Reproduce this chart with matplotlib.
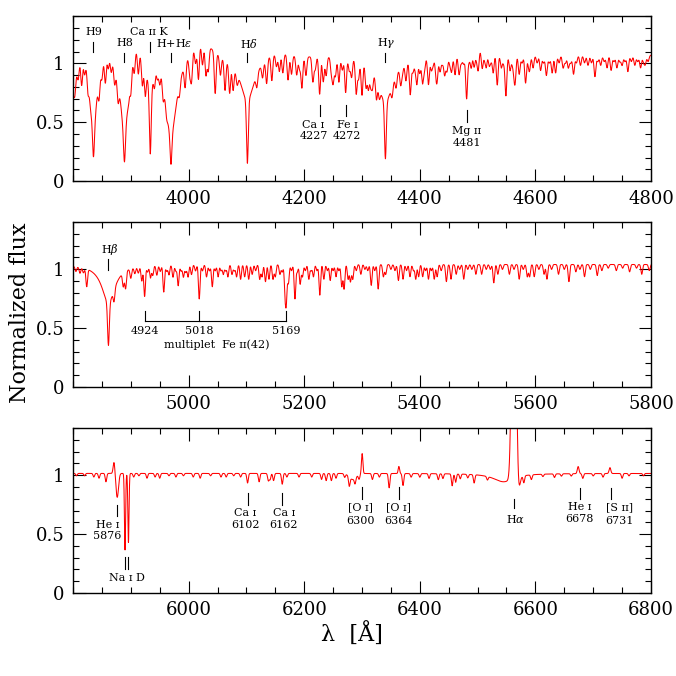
import matplotlib
matplotlib.use("Agg")
import matplotlib.pyplot as plt
import numpy as np
from matplotlib.ticker import MultipleLocator

plt.rcParams["font.family"] = ["DejaVu Serif"]
plt.rcParams["mathtext.fontset"] = "dejavuserif"

# ---------------- data ----------------
# wavelength ranges of the three panels (Angstrom)
ranges = [(3800, 4800), (4800, 5800), (5800, 6800)]
xtick_sets = [[4000, 4200, 4400, 4600, 4800],
              [5000, 5200, 5400, 5600, 5800],
              [6000, 6200, 6400, 6600, 6800]]
line_sigma = [1.6, 1.4, 1.3]

# pseudo-continuum level and broad bumps (centre, amplitude, sigma)
top_base = 1.07
top_bump_wl = [3818, 3860, 3908, 3950, 4020, 4150, 4505]
top_bump_amp = [0.16, 0.14, 0.20, 0.15, 0.15, 0.05, 0.05]
top_bump_sig = [14, 9, 10, 8, 22, 20, 15]

mid_base = 1.04
mid_bump_wl = []
mid_bump_amp = []
mid_bump_sig = []

bot_base = 1.015
bot_bump_wl = []
bot_bump_amp = []
bot_bump_sig = []

# strong / broad absorptions: centre, core depth, core sigma, wing depth, wing gamma
top_broad_wl = [3797.9, 3835.4, 3889.0, 3933.7, 3969.5, 4101.7, 4340.5]
top_broad_core = [0.25, 0.20, 0.22, 0.45, 0.23, 0.50, 0.45]
top_broad_sig = [1.5, 1.5, 1.5, 1.5, 1.5, 1.5, 1.5]
top_broad_wing = [0.30, 0.58, 0.60, 0.25, 0.62, 0.35, 0.37]
top_broad_gam = [10, 7, 8, 5, 12, 15, 16]

mid_broad_wl = [4861.3]
mid_broad_core = [0.35]
mid_broad_sig = [1.5]
mid_broad_wing = [0.31]
mid_broad_gam = [14]

bot_broad_wl = [5876.5, 5890.0, 5895.9, 6284.0, 6545.0, 6571.0]
bot_broad_core = [0.20, 0.64, 0.58, 0.05, 0.0, 0.12]
bot_broad_sig = [2.2, 1.0, 1.0, 6.0, 1.0, 2.5]
bot_broad_wing = [0.0, 0.0, 0.0, 0.0, 0.07, 0.0]
bot_broad_gam = [1, 1, 1, 1, 22, 1]

# weak metal lines: centre, depth
top_line_wl = [3803, 3809, 3815, 3820, 3826, 3830, 3845, 3850, 3856, 3861, 3866, 3872,
               3878, 3896, 3900, 3906, 3913, 3920, 3925, 3941, 3946, 3950, 3956, 3962,
               3984, 3994, 4002, 4005, 4012, 4017, 4024, 4030, 4034, 4046, 4055, 4063,
               4071, 4077, 4084, 4118, 4128, 4135, 4144, 4152, 4157, 4163, 4172, 4178,
               4187, 4192, 4196, 4203, 4215, 4219, 4226.7, 4233, 4238, 4247, 4250, 4254,
               4260, 4266, 4271.7, 4278, 4282, 4290, 4294, 4300, 4307, 4311, 4315, 4318,
               4325, 4330, 4352, 4359, 4367, 4370, 4376, 4383.5, 4388, 4392, 4395, 4400,
               4404.7, 4408, 4415, 4420, 4423, 4428, 4430, 4435, 4439, 4443, 4447, 4452,
               4455, 4461, 4468, 4472, 4476, 4481, 4485, 4489, 4494, 4498, 4501, 4508,
               4512, 4515, 4520, 4523, 4527, 4534, 4541, 4545, 4549, 4556, 4560, 4563,
               4565, 4572, 4577, 4583, 4588, 4590, 4596, 4603, 4609, 4614, 4619, 4624,
               4629, 4635, 4641, 4648, 4652, 4657, 4661, 4666, 4671, 4678, 4685, 4691,
               4697, 4703, 4708, 4713, 4719, 4724, 4731, 4736, 4741, 4746, 4750, 4755,
               4760, 4766, 4772, 4777, 4782, 4787, 4790, 4795]
top_line_depth = [0.15, 0.12, 0.22, 0.12, 0.18, 0.10, 0.20, 0.12, 0.22, 0.12, 0.12, 0.15,
                  0.20, 0.12, 0.20, 0.15, 0.18, 0.22, 0.25, 0.15, 0.12, 0.15, 0.18, 0.12,
                  0.12, 0.20, 0.15, 0.22, 0.12, 0.25, 0.15, 0.22, 0.18, 0.32, 0.15, 0.25,
                  0.25, 0.20, 0.10, 0.12, 0.12, 0.20, 0.20, 0.10, 0.14, 0.15, 0.20, 0.15,
                  0.15, 0.10, 0.25, 0.15, 0.20, 0.10, 0.30, 0.20, 0.15, 0.12, 0.20, 0.15,
                  0.20, 0.10, 0.28, 0.10, 0.15, 0.28, 0.15, 0.28, 0.20, 0.20, 0.15, 0.15,
                  0.20, 0.12, 0.12, 0.12, 0.15, 0.06, 0.15, 0.28, 0.10, 0.07, 0.20, 0.12,
                  0.20, 0.10, 0.22, 0.10, 0.06, 0.12, 0.16, 0.12, 0.06, 0.15, 0.12, 0.06,
                  0.12, 0.15, 0.15, 0.06, 0.07, 0.35, 0.06, 0.12, 0.12, 0.06, 0.15, 0.14,
                  0.06, 0.12, 0.10, 0.06, 0.15, 0.24, 0.10, 0.06, 0.32, 0.12, 0.06, 0.12,
                  0.18, 0.15, 0.06, 0.22, 0.06, 0.10, 0.10, 0.06, 0.12, 0.06, 0.16, 0.06,
                  0.14, 0.14, 0.06, 0.10, 0.06, 0.10, 0.06, 0.15, 0.06, 0.08, 0.06, 0.08,
                  0.06, 0.17, 0.05, 0.08, 0.05, 0.10, 0.12, 0.05, 0.10, 0.05, 0.08, 0.05,
                  0.13, 0.05, 0.08, 0.05, 0.10, 0.05, 0.07, 0.05]

mid_line_wl = [4805, 4812, 4818, 4823.7, 4871, 4887, 4891, 4900, 4907, 4913, 4919, 4923.9,
               4929, 4934, 4938, 4945, 4951, 4957, 4962, 4966, 4973, 4978, 4982, 4987,
               4991, 4995, 4999, 5005, 5012, 5018.4, 5024, 5031, 5036, 5041, 5046, 5051,
               5056, 5060, 5064, 5068, 5075, 5079, 5083, 5090, 5097, 5104, 5110, 5116,
               5123, 5127, 5133, 5139, 5146, 5150, 5158, 5162, 5167, 5169, 5172.7, 5178,
               5184, 5188, 5193, 5197, 5202, 5208, 5212, 5216, 5222, 5227, 5234, 5240,
               5245, 5250, 5255, 5260, 5265, 5269, 5276, 5280, 5284, 5290, 5298, 5305,
               5310, 5316, 5322, 5328, 5337, 5341, 5350, 5357, 5363, 5371, 5377, 5383,
               5389, 5393, 5398, 5405, 5410, 5415, 5420, 5425, 5430, 5437, 5446, 5454,
               5463, 5469, 5476, 5483, 5490, 5497, 5507, 5515, 5522, 5528, 5535, 5543,
               5555, 5563, 5572, 5579, 5586, 5590, 5598, 5606, 5615, 5620, 5628, 5640,
               5650, 5658, 5670, 5677, 5685, 5695, 5707, 5715, 5726, 5740, 5751, 5763,
               5775, 5784, 5797]
mid_line_depth = [0.04, 0.05, 0.04, 0.15, 0.12, 0.12, 0.15, 0.08, 0.05, 0.05, 0.12, 0.25,
                  0.05, 0.10, 0.08, 0.08, 0.05, 0.22, 0.05, 0.08, 0.10, 0.05, 0.17, 0.05,
                  0.10, 0.06, 0.10, 0.08, 0.05, 0.28, 0.05, 0.10, 0.05, 0.18, 0.05, 0.10,
                  0.05, 0.08, 0.05, 0.10, 0.08, 0.05, 0.10, 0.12, 0.10, 0.12, 0.08, 0.05,
                  0.12, 0.10, 0.14, 0.12, 0.12, 0.10, 0.08, 0.06, 0.22, 0.28, 0.15, 0.05,
                  0.28, 0.06, 0.16, 0.10, 0.05, 0.12, 0.05, 0.10, 0.05, 0.25, 0.12, 0.05,
                  0.13, 0.05, 0.10, 0.05, 0.18, 0.20, 0.12, 0.14, 0.12, 0.05, 0.08, 0.04,
                  0.05, 0.17, 0.05, 0.20, 0.10, 0.08, 0.04, 0.05, 0.13, 0.12, 0.05, 0.10,
                  0.05, 0.12, 0.10, 0.10, 0.05, 0.12, 0.05, 0.12, 0.10, 0.05, 0.14, 0.12,
                  0.08, 0.04, 0.12, 0.04, 0.04, 0.08, 0.08, 0.04, 0.04, 0.15, 0.08, 0.04,
                  0.08, 0.04, 0.12, 0.04, 0.10, 0.10, 0.10, 0.04, 0.08, 0.12, 0.04, 0.08,
                  0.04, 0.14, 0.06, 0.04, 0.10, 0.04, 0.09, 0.05, 0.03, 0.05, 0.03, 0.06,
                  0.03, 0.08, 0.05]

bot_line_wl = [5806, 5820, 5836, 5845, 5857, 5905, 5914, 5928, 5942, 5950, 5966, 5978,
               5991, 6008, 6020, 6038, 6056, 6065, 6078, 6090, 6102, 6122, 6138, 6141,
               6147, 6162, 6170, 6191, 6213, 6230, 6238, 6247, 6255, 6270, 6278, 6288,
               6295, 6318, 6330, 6347, 6371, 6385, 6400, 6416, 6432, 6440, 6456, 6462,
               6470, 6483, 6494, 6517, 6580, 6593, 6613, 6633, 6645, 6662, 6682, 6700,
               6717, 6750, 6762, 6787]
bot_line_depth = [0.02, 0.02, 0.03, 0.04, 0.07, 0.03, 0.02, 0.04, 0.03, 0.04, 0.02, 0.03,
                  0.02, 0.03, 0.04, 0.02, 0.03, 0.03, 0.02, 0.03, 0.08, 0.07, 0.06, 0.05,
                  0.06, 0.09, 0.03, 0.03, 0.03, 0.05, 0.06, 0.06, 0.04, 0.03, 0.08, 0.05,
                  0.04, 0.05, 0.03, 0.12, 0.10, 0.03, 0.03, 0.04, 0.05, 0.04, 0.10, 0.07,
                  0.04, 0.03, 0.07, 0.03, 0.06, 0.04, 0.02, 0.03, 0.02, 0.02, 0.04, 0.02,
                  0.03, 0.04, 0.02, 0.02]

# emission lines: centre, amplitude, sigma
bot_emis_wl = [5871.0, 6300.3, 6363.8, 6562.8, 6674.0, 6729.0]
bot_emis_amp = [0.10, 0.17, 0.06, 3.0, 0.06, 0.05]
bot_emis_sig = [1.5, 1.2, 1.2, 3.2, 1.5, 1.5]


def gauss(wl, c, s):
    return np.exp(-0.5 * ((wl - c) / s) ** 2)


def spectrum(wl, base, bumps, broad, lines, emis, sigma):
    cont = np.full_like(wl, base)
    for c, a, s in zip(*bumps):
        cont += a * gauss(wl, c, s)
    depth = np.zeros_like(wl)
    for c, dc, sc, dw, g in zip(*broad):
        depth += dc * gauss(wl, c, sc) + dw / (1 + ((wl - c) / g) ** 2)
    flux = cont * (1 - np.clip(depth, 0, 0.97))
    for c, d in zip(*lines):
        flux *= 1 - d * gauss(wl, c, sigma)
    for c, a, s in zip(*emis):
        flux += a * gauss(wl, c, s)
    return flux


panels = [
    (top_base, (top_bump_wl, top_bump_amp, top_bump_sig),
     (top_broad_wl, top_broad_core, top_broad_sig, top_broad_wing, top_broad_gam),
     (top_line_wl, top_line_depth), ([], [], [])),
    (mid_base, (mid_bump_wl, mid_bump_amp, mid_bump_sig),
     (mid_broad_wl, mid_broad_core, mid_broad_sig, mid_broad_wing, mid_broad_gam),
     (mid_line_wl, mid_line_depth), ([], [], [])),
    (bot_base, (bot_bump_wl, bot_bump_amp, bot_bump_sig),
     (bot_broad_wl, bot_broad_core, bot_broad_sig, bot_broad_wing, bot_broad_gam),
     (bot_line_wl, bot_line_depth), (bot_emis_wl, bot_emis_amp, bot_emis_sig)),
]

# line identifications: tick wavelength, tick bottom, tick top, text x, text lines, text y
SC = "\u026a"  # small capital I for ionisation stages
top_marks = [
    (3835.4, 1.095, 1.18, 3835.4, ["H9"], [1.27]),
    (3889.0, 1.008, 1.085, 3889.0, ["H8"], [1.17]),
    (3933.7, 1.095, 1.18, 3931.0, ["Ca " + SC + SC + " K"], [1.27]),
    (3970.0, 1.008, 1.085, 3974.6, [r"H+H$\epsilon$"], [1.17]),
    (4101.7, 1.008, 1.085, 4103.6, [r"H$\delta$"], [1.17]),
    (4340.5, 1.008, 1.085, 4341.7, [r"H$\gamma$"], [1.17]),
    (4226.7, 0.555, 0.65, 4216.0, ["Ca " + SC, "4227"], [0.475, 0.38]),
    (4272.0, 0.555, 0.65, 4274.0, ["Fe " + SC, "4272"], [0.475, 0.38]),
    (4481.0, 0.50, 0.60, 4481.0, ["Mg " + SC + SC, "4481"], [0.43, 0.325]),
]
mid_marks = [
    (4861.3, 0.995, 1.088, 4864.0, [r"H$\beta$"], [1.17]),
]
bot_marks = [
    (5876.0, 0.65, 0.748, 5860.0, ["He " + SC, "5876"], [0.58, 0.48]),
    (6102.0, 0.75, 0.85, 6098.0, ["Ca " + SC, "6102"], [0.68, 0.58]),
    (6162.0, 0.75, 0.85, 6165.0, ["Ca " + SC, "6162"], [0.68, 0.58]),
    (6300.0, 0.80, 0.90, 6298.0, ["[O " + SC + "]", "6300"], [0.73, 0.61]),
    (6364.0, 0.80, 0.90, 6363.0, ["[O " + SC + "]", "6364"], [0.73, 0.61]),
    (6563.0, 0.72, 0.80, 6565.0, [r"H$\alpha$"], [0.63]),
    (6678.0, 0.80, 0.895, 6676.0, ["He " + SC, "6678"], [0.73, 0.63]),
    (6731.0, 0.80, 0.895, 6746.0, ["[S " + SC + SC + "]", "6731"], [0.73, 0.61]),
]
multiplet_wl = [4924, 5018, 5169]
nad_wl = [5890.0, 5895.9]

FS = 8.0


def mark(ax, wl, y0, y1, tx, texts, ys):
    ax.plot([wl, wl], [y0, y1], color="black", lw=0.8)
    for t, y in zip(texts, ys):
        ax.text(tx, y, t, ha="center", va="center", fontsize=FS)


fig = plt.figure(figsize=(6.76, 6.76), dpi=100)
bottoms = [0.732, 0.4275, 0.1228]
axes = []
for i, (lo, hi) in enumerate(ranges):
    ax = fig.add_axes([0.108, bottoms[i], 0.855, 0.244])
    wl = np.arange(lo, hi + 0.25, 0.25)
    base, bumps, broad, lines, emis = panels[i]
    flux = spectrum(wl, base, bumps, broad, lines, emis, line_sigma[i])
    ax.plot(wl, flux, color="#ff0000", lw=0.75)
    ax.set_xlim(lo, hi)
    ax.set_ylim(0, 1.4)
    ax.set_xticks(xtick_sets[i])
    ax.set_xticklabels([str(t) for t in xtick_sets[i]])
    ax.xaxis.set_minor_locator(MultipleLocator(50))
    ax.set_yticks([0, 0.5, 1])
    ax.set_yticklabels(["0", "0.5", "1"])
    ax.yaxis.set_minor_locator(MultipleLocator(0.1))
    ax.tick_params(which="both", direction="in", top=True, right=True, labelsize=13, width=0.8)
    ax.tick_params(which="major", length=9, pad=6)
    ax.tick_params(which="minor", length=4.5)
    for sp in ax.spines.values():
        sp.set_linewidth(1.0)
    axes.append(ax)

for m in top_marks:
    mark(axes[0], *m)
for m in mid_marks:
    mark(axes[1], *m)
for m in bot_marks:
    mark(axes[2], *m)

# Fe II (42) multiplet bracket
ax = axes[1]
ax.plot([multiplet_wl[0], multiplet_wl[-1]], [0.557, 0.557], color="black", lw=0.8)
for w in multiplet_wl:
    ax.plot([w, w], [0.557, 0.647], color="black", lw=0.8)
    ax.text(w, 0.475, str(w), ha="center", va="center", fontsize=FS)
ax.text(5049, 0.36, "multiplet  Fe " + SC + SC + "(42)", ha="center", va="center", fontsize=FS)

# Na I D doublet
ax = axes[2]
for w in nad_wl:
    ax.plot([w, w], [0.203, 0.305], color="black", lw=0.8)
ax.text(np.mean(nad_wl), 0.13, "Na " + SC + " D", ha="center", va="center", fontsize=FS)

fig.text(0.030, 1 - 313 / 676, "Normalized flux", rotation=90, ha="center", va="center", fontsize=16)
fig.text(0.521, 0.061, "\u03bb  [\u00c5]", ha="center", va="center", fontsize=16)

fig.savefig("out.png", dpi=100)
